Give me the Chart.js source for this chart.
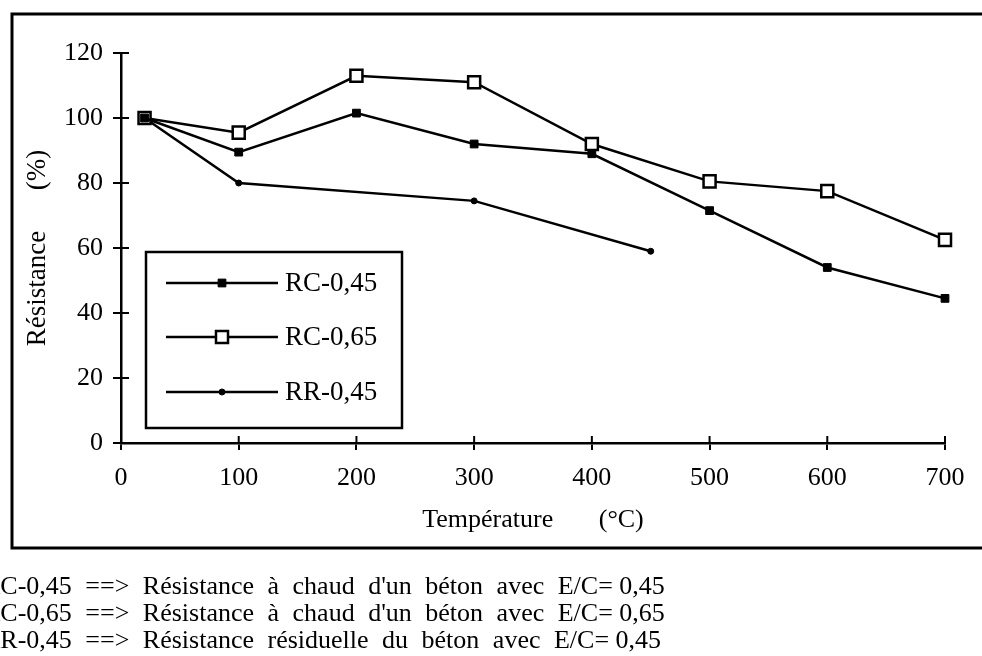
<!DOCTYPE html>
<html lang="fr">
<head>
  <meta charset="UTF-8" />
  <title>Résistance en fonction de la température</title>
  <style>
    body { margin: 0; background: #fff; }
    #wrap { position: relative; width: 982px; height: 656px; overflow: hidden; }
    #chart { position: absolute; left: 0; top: 0; }
    .note {
      position: absolute;
      left: -17px;
      font-family: "Liberation Serif", "Times New Roman", serif;
      font-size: 26px;
      line-height: 27px;
      word-spacing: 7px;
      white-space: pre;
      color: #000;
    }
    .note span { word-spacing: 0; }
  </style>
  <script src="https://cdn.jsdelivr.net/npm/chart.js"></script>
</head>
<body>
  <div id="wrap">
    <canvas id="chart" width="982" height="656"></canvas>
    <div class="note" style="top:572px">RC-0,45 ==> Résistance à chaud d'un béton avec <span>E/C= 0,45</span><br>RC-0,65 ==> Résistance à chaud d'un béton avec <span>E/C= 0,65</span><br>RR-0,45 ==> Résistance résiduelle du béton avec <span>E/C= 0,45</span></div>
  </div>

  <script>
    // data
    const tempRC = [20, 100, 200, 300, 400, 500, 600, 700];
    const rc045 = [100, 89.5, 101.5, 92, 89, 71.5, 54, 44.5];
    const rc065 = [100, 95.5, 113, 111, 92, 80.5, 77.5, 62.5];
    const tempRR = [20, 100, 300, 450];
    const rr045 = [100, 80, 74.5, 59];
    const seriesNames = ['RC-0,45', 'RC-0,65', 'RR-0,45'];
    const xTitle = 'Température\u00a0\u00a0\u00a0\u00a0\u00a0\u00a0\u00a0(°C)';
    const yTitle = 'Résistance\u00a0\u00a0\u00a0\u00a0\u00a0\u00a0(%)';

    const FONT = '"Liberation Serif", "Times New Roman", serif';
    const INK = '#000';

    const pts = (xs, ys) => xs.map((x, i) => ({ x: x, y: ys[i] }));

    // outer frame (right side runs off the picture)
    const framePlugin = {
      id: 'frame',
      beforeDraw(chart) {
        const ctx = chart.ctx;
        ctx.save();
        ctx.fillStyle = '#fff';
        ctx.fillRect(0, 0, chart.width, chart.height);
        ctx.strokeStyle = INK;
        ctx.lineWidth = 3;
        ctx.beginPath();
        ctx.moveTo(chart.width + 5, 14);
        ctx.lineTo(12, 14);
        ctx.lineTo(12, 548);
        ctx.lineTo(chart.width + 5, 548);
        ctx.stroke();
        ctx.restore();
      }
    };

    // ticks that cross the axes (inner half)
    const innerTicks = {
      id: 'innerTicks',
      afterDraw(chart) {
        const { ctx, chartArea: a } = chart;
        const sx = chart.scales.x, sy = chart.scales.y;
        ctx.save();
        ctx.strokeStyle = INK;
        ctx.lineWidth = 2;
        ctx.beginPath();
        sx.ticks.forEach(t => {
          const px = sx.getPixelForValue(t.value);
          ctx.moveTo(px, a.bottom);
          ctx.lineTo(px, a.bottom - 7);
        });
        sy.ticks.forEach(t => {
          const py = sy.getPixelForValue(t.value);
          ctx.moveTo(a.left, py);
          ctx.lineTo(a.left + 8, py);
        });
        ctx.stroke();
        ctx.restore();
      }
    };

    // boxed legend inside the plot
    const boxLegend = {
      id: 'boxLegend',
      afterDraw(chart) {
        const ctx = chart.ctx;
        const box = { x: 146, y: 252, w: 256, h: 176 };
        const rows = [283, 337, 392];
        ctx.save();
        ctx.strokeStyle = INK;
        ctx.lineWidth = 2.5;
        ctx.strokeRect(box.x, box.y, box.w, box.h);
        chart.data.datasets.forEach((ds, i) => {
          const y = rows[i];
          ctx.strokeStyle = INK;
          ctx.lineWidth = 2.5;
          ctx.beginPath();
          ctx.moveTo(166, y);
          ctx.lineTo(278, y);
          ctx.stroke();
          ctx.fillStyle = ds.pointBackgroundColor;
          ctx.strokeStyle = ds.pointBorderColor;
          ctx.lineWidth = ds.pointBorderWidth;
          Chart.helpers.drawPoint(ctx, {
            pointStyle: ds.pointStyle, radius: ds.pointRadius,
            borderWidth: ds.pointBorderWidth, rotation: 0
          }, 222, y);
          ctx.fillStyle = INK;
          ctx.font = '27px ' + FONT;
          ctx.textBaseline = 'middle';
          ctx.fillText(ds.label, 285, y + 1);
        });
        ctx.restore();
      }
    };

    const ctx = document.getElementById('chart').getContext('2d');
    new Chart(ctx, {
      type: 'line',
      data: {
        datasets: [
          {
            label: seriesNames[0],
            data: pts(tempRC, rc045),
            borderColor: INK, borderWidth: 2.5,
            pointStyle: 'rect', pointRadius: 5.5,
            pointBackgroundColor: INK, pointBorderColor: INK, pointBorderWidth: 1,
            clip: false
          },
          {
            label: seriesNames[1],
            data: pts(tempRC, rc065),
            borderColor: INK, borderWidth: 2.5,
            pointStyle: 'rect', pointRadius: 8.5,
            pointBackgroundColor: '#fff', pointBorderColor: INK, pointBorderWidth: 2.5,
            clip: false
          },
          {
            label: seriesNames[2],
            data: pts(tempRR, rr045),
            borderColor: INK, borderWidth: 2.5,
            pointStyle: 'circle', pointRadius: 3,
            pointBackgroundColor: INK, pointBorderColor: INK, pointBorderWidth: 1,
            clip: false
          }
        ]
      },
      options: {
        responsive: false,
        animation: false,
        layout: { padding: { left: 0, right: 37, top: 53, bottom: 113 } },
        plugins: { legend: { display: false }, tooltip: { enabled: false } },
        scales: {
          x: {
            type: 'linear', min: 0, max: 700,
            afterFit: s => { s.height = 100; },
            ticks: { stepSize: 100, color: INK, padding: 13, font: { family: FONT, size: 26 } },
            grid: { drawOnChartArea: false, drawTicks: true, tickLength: 7, color: INK, lineWidth: 2 },
            border: { display: true, color: INK, width: 2.5 },
            title: {
              display: true, text: xTitle, color: INK,
              font: { family: FONT, size: 26 }, padding: { top: 0, bottom: 7 }
            }
          },
          y: {
            min: 0, max: 120,
            afterFit: s => { s.width = 121; },
            ticks: { stepSize: 20, color: INK, padding: 10, font: { family: FONT, size: 26 } },
            grid: { drawOnChartArea: false, drawTicks: true, tickLength: 8, color: INK, lineWidth: 2 },
            border: { display: true, color: INK, width: 2.5 },
            title: {
              display: true, text: yTitle, color: INK,
              font: { family: FONT, size: 27 }, padding: { top: 22, bottom: 0 }
            }
          }
        }
      },
      plugins: [framePlugin, innerTicks, boxLegend]
    });
  </script>
</body>
</html>
